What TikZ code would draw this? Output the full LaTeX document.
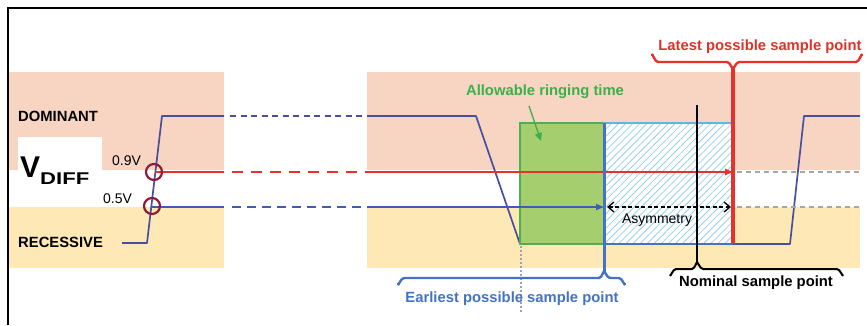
\documentclass[tikz,border=0pt]{standalone}
\usepackage{fontspec}
\setmainfont{Liberation Sans}
\usetikzlibrary{arrows.meta,patterns.meta}

\definecolor{domfill}{HTML}{F8D5C3}
\definecolor{recfill}{HTML}{FEE8B6}
\definecolor{sigblue}{HTML}{46509E}
\definecolor{lineblue}{HTML}{3D5DB8}
\definecolor{sampblue}{HTML}{4472C4}
\definecolor{sampred}{HTML}{E8312A}
\definecolor{textred}{HTML}{D9342B}
\definecolor{ringgreen}{HTML}{A5CF6E}
\definecolor{ringedge}{HTML}{4DAF4E}
\definecolor{textgreen}{HTML}{3BAF4A}
\definecolor{hatchblue}{HTML}{98D0EC}
\definecolor{hatchedge}{HTML}{5BB8E6}
\definecolor{circred}{HTML}{8C1B3C}
\definecolor{thgrey}{HTML}{A6A6A6}

\tikzset{
  boldlab/.style={font=\fontsize{14.8}{16}\selectfont\bfseries, inner sep=0pt},
  smalllab/.style={font=\fontsize{14}{15}\selectfont, inner sep=0pt},
  signal/.style={draw=sigblue, line width=1.7pt, line join=round},
  thresh/.style={line width=2pt},
  tick/.style={line width=2pt, line join=round, line cap=round},
  probe/.style={draw=circred, line width=2.2pt},
}

\begin{document}
\begin{tikzpicture}[x=1pt, y=-1pt]
\useasboundingbox (0,0) rectangle (867,325);

% frame
\draw[line width=1.8pt] (8,325) -- (8,8) -- (867,8);

% dominant / recessive bands
\fill[domfill] (9,72) rectangle (224,170);
\fill[recfill] (9,207) rectangle (224,268);
\fill[domfill] (367,72) rectangle (860,170);
\fill[recfill] (367,207) rectangle (860,268);
\fill[white] (18,137) rectangle (102,170);

% bus signal
\draw[signal] (122,243) -- (147,243) -- (162,116) -- (224,116);
\draw[signal, dash pattern=on 6pt off 4.5pt] (230,116) -- (367,116);
\draw[signal] (367,116) -- (476,116) -- (520,244) -- (790,244) -- (804,116) -- (860,116);

% ringing window and asymmetry window
\draw[ringedge, fill=ringgreen, line width=1.6pt] (520,123) rectangle (604,244);
\fill[white] (604,123) rectangle (733,244);
\fill[pattern={Lines[angle=45,distance=5pt,line width=0.8pt]}, pattern color=hatchblue] (604,123) rectangle (733,244);
\draw[hatchedge, line width=1.5pt] (604,244) -- (604,123) -- (733,123);
\draw[sampblue, line width=1.5pt] (604,244) -- (733,244);

% dotted edge marker
\draw[color=sigblue!55, line width=1.2pt, dash pattern=on 1.5pt off 2.5pt] (521,246) -- (521,312);

% threshold lines
\coordinate (r0) at (155,172);
\coordinate (r1) at (224,172);
\coordinate (r2) at (367,172);
\coordinate (rend) at (733,172);
\draw[sampred, thresh] (r0) -- (r1);
\draw[sampred, thresh, dash pattern=on 11pt off 8pt] (232,172) -- (r2);
\draw[sampred, thresh, -{Triangle[length=8pt,width=6pt]}] (r2) -- (rend);

\coordinate (b0) at (152,207);
\coordinate (b1) at (224,207);
\coordinate (b2) at (367,207);
\coordinate (bend) at (604,207);
\draw[lineblue, thresh, line width=1.7pt] (b0) -- (b1);
\draw[lineblue, thresh, line width=1.7pt, dash pattern=on 9pt off 6pt] (232,207) -- (b2);
\draw[lineblue, thresh, line width=1.7pt, -{Triangle[length=8pt,width=6pt]}] (b2) -- (bend);

\draw[thgrey, line width=1.1pt, dash pattern=on 5pt off 4pt] (737,172) -- (860,172);
\draw[thgrey, line width=1.1pt, dash pattern=on 5pt off 4pt] (737,207) -- (860,207);

% asymmetry span
\coordinate (asl) at (607,207);
\coordinate (asr) at (731,207);
\draw[black, line width=1.3pt, dash pattern=on 4pt off 2.5pt, {Straight Barb[length=6pt,width=10pt]}-{Straight Barb[length=6pt,width=10pt]}] (asl) -- (asr);
\node[smalllab] (asym) at (657,220) {Asymmetry};

% threshold probes
\draw[probe] (154,172) circle (8);
\draw[probe] (152,206) circle (8);

% sample point markers and braces
\draw[sampblue, line width=3pt] (604,123) -- (604,272);
\draw[sampblue, tick, line width=2.4pt] (398,284) to[out=-90,in=180] (404,278) -- (599,278)
  to[out=0,in=90] (604,272) to[out=90,in=180] (610,278) -- (619,278) to[out=0,in=-90] (625,284);

\draw[black, line width=2.2pt] (697,105) -- (697,263);
\draw[black, tick] (670,275) to[out=-90,in=180] (676,269) -- (692,269)
  to[out=0,in=90] (697,263) to[out=90,in=180] (703,269) -- (837,269) to[out=0,in=-90] (843,275);

\draw[sampred, line width=3.2pt] (733,66) -- (733,244);
\draw[sampred, tick, line width=2.4pt] (652,55) to[out=90,in=180] (658,62) -- (727,62)
  to[out=0,in=-90] (733,68) to[out=-90,in=180] (739,62) -- (856,62) to[out=0,in=90] (862,55);

% ringing time pointer
\coordinate (ra) at (529,106);
\coordinate (rb) at (541,141);
\draw[textgreen, line width=1.3pt, -{Triangle[length=8pt,width=7pt]}] (ra) -- (rb);

% labels
\node[boldlab, anchor=west] (dom) at (18,116) {DOMINANT};
\node[boldlab, anchor=west] (rec) at (18,242) {RECESSIVE};
\node[anchor=base west, inner sep=0pt] (vdiff) at (20,177)
  {\fontsize{30}{30}\selectfont\bfseries V\raisebox{-7pt}{\fontsize{17}{17}\selectfont\bfseries\scalebox{1.3}[1]{DIFF}}};
\node[smalllab, anchor=base west] (v09) at (112,165) {0.9V};
\node[smalllab, anchor=base west] (v05) at (103,203) {0.5V};

\node[boldlab, text=textgreen] (ring) at (545,92) {Allowable ringing time};
\node[boldlab, text=textred] (latest) at (760,47) {Latest possible sample point};
\node[boldlab, text=sampblue] (earliest) at (512,299) {Earliest possible sample point};
\node[boldlab, text=black] (nominal) at (756,283) {Nominal sample point};
\end{tikzpicture}
\end{document}
